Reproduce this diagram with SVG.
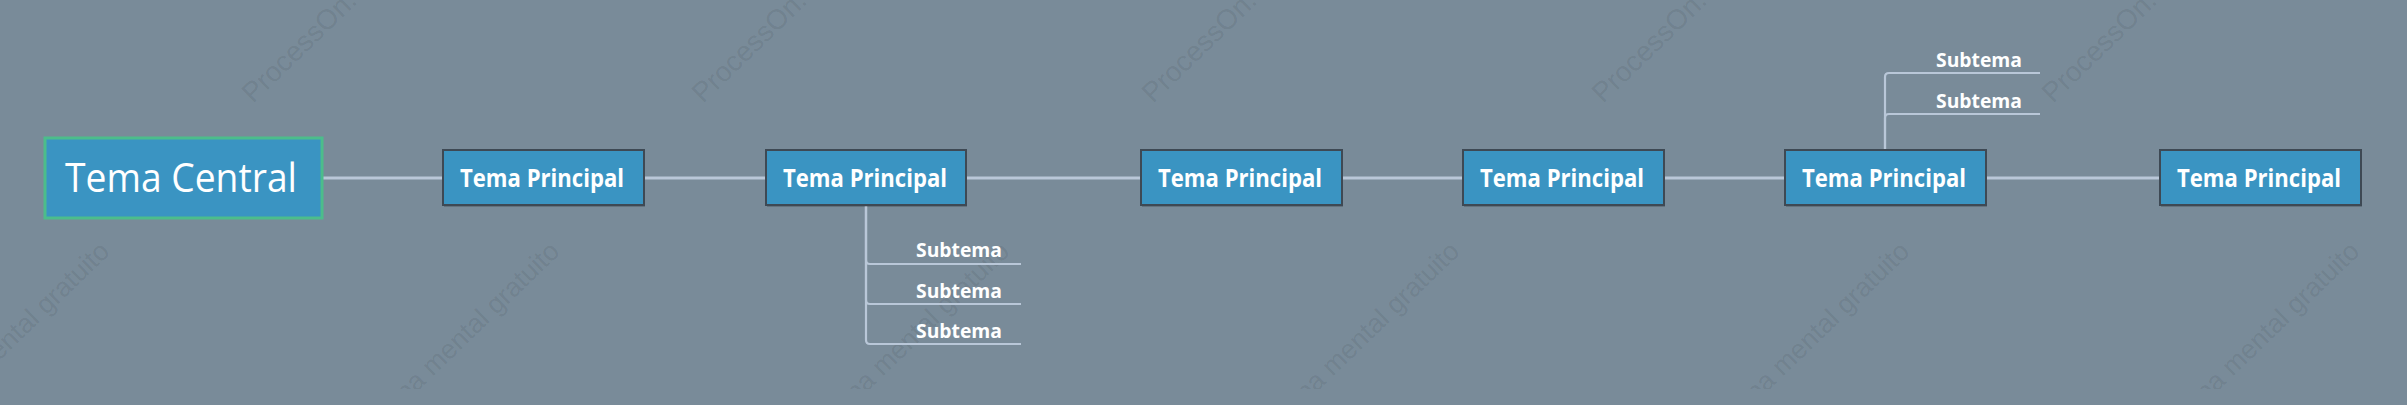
<svg xmlns="http://www.w3.org/2000/svg" width="2407" height="405" viewBox="0 0 2407 405">
<defs>
<style>
.wm{font-family:"Liberation Sans",Arial,sans-serif;font-size:28px;fill:#000;fill-opacity:0.085}
.wm2{font-family:"Liberation Sans",Arial,sans-serif;font-size:27px;fill:#000;fill-opacity:0.085;text-anchor:end}
.main rect.box{fill:#3a94c2;stroke:#3e4954;stroke-width:2}
.main rect.sh{fill:#000;fill-opacity:0.18}
.main text{font-family:"Open Sans","Noto Sans",sans-serif;font-weight:bold;font-size:25px;fill:#fff;text-anchor:middle}
.sub text{font-family:"Open Sans","Noto Sans",sans-serif;font-weight:bold;font-size:20px;fill:#fff}
.conn{fill:none;stroke:#b9c7d8;stroke-width:3}
.subc{fill:none;stroke:#b9c7d8;stroke-width:2.2}
</style>
<clipPath id="wmclip"><rect x="0" y="0" width="2407" height="389"/></clipPath>
</defs>
<rect x="0" y="0" width="2407" height="405" fill="#798b99"/>
<g id="watermarks" clip-path="url(#wmclip)">
<text class="wm" transform="translate(253,104) rotate(-44)">ProcessOn.com</text>
<text class="wm" transform="translate(703,104) rotate(-44)">ProcessOn.com</text>
<text class="wm" transform="translate(1153,104) rotate(-44)">ProcessOn.com</text>
<text class="wm" transform="translate(1603,104) rotate(-44)">ProcessOn.com</text>
<text class="wm" transform="translate(2053,104) rotate(-44)">ProcessOn.com</text>
<text class="wm2" transform="translate(111,253) rotate(-44)">Mapa mental gratuito</text>
<text class="wm2" transform="translate(561,253) rotate(-44)">Mapa mental gratuito</text>
<text class="wm2" transform="translate(1011,253) rotate(-44)">Mapa mental gratuito</text>
<text class="wm2" transform="translate(1461,253) rotate(-44)">Mapa mental gratuito</text>
<text class="wm2" transform="translate(1911,253) rotate(-44)">Mapa mental gratuito</text>
<text class="wm2" transform="translate(2361,253) rotate(-44)">Mapa mental gratuito</text>
</g>
<g id="connectors">
<path class="conn" d="M322 178 H443 M644 178 H766 M966 178 H1141 M1342 178 H1463 M1664 178 H1785 M1986 178 H2160"/>
<path class="subc" d="M866 205 V260 Q866 264 870 264 H1021"/>
<path class="subc" d="M866 205 V300 Q866 304 870 304 H1021"/>
<path class="subc" d="M866 205 V340 Q866 344 870 344 H1021"/>
<path class="subc" d="M1885 150 V77 Q1885 73 1889 73 H2040"/>
<path class="subc" d="M1885 150 V118 Q1885 114 1889 114 H2040"/>
</g>
<g id="central">
<rect x="45" y="138" width="277" height="80" fill="#3a94c2" stroke="#4cbd8b" stroke-width="3"/>
<text x="181" y="192" font-family="'Open Sans','Noto Sans',sans-serif" font-size="40" fill="#fff" text-anchor="middle" textLength="232" lengthAdjust="spacingAndGlyphs">Tema Central</text>
</g>
<g id="main1" class="main">
<rect class="sh" x="444" y="152" width="201" height="55"/>
<rect class="box" x="443" y="150" width="201" height="55"/>
<text x="542" y="187" textLength="164" lengthAdjust="spacingAndGlyphs">Tema Principal</text>
</g>
<g id="main2" class="main">
<rect class="sh" x="767" y="152" width="200" height="55"/>
<rect class="box" x="766" y="150" width="200" height="55"/>
<text x="865" y="187" textLength="164" lengthAdjust="spacingAndGlyphs">Tema Principal</text>
</g>
<g id="main3" class="main">
<rect class="sh" x="1142" y="152" width="201" height="55"/>
<rect class="box" x="1141" y="150" width="201" height="55"/>
<text x="1240" y="187" textLength="164" lengthAdjust="spacingAndGlyphs">Tema Principal</text>
</g>
<g id="main4" class="main">
<rect class="sh" x="1464" y="152" width="201" height="55"/>
<rect class="box" x="1463" y="150" width="201" height="55"/>
<text x="1562" y="187" textLength="164" lengthAdjust="spacingAndGlyphs">Tema Principal</text>
</g>
<g id="main5" class="main">
<rect class="sh" x="1786" y="152" width="201" height="55"/>
<rect class="box" x="1785" y="150" width="201" height="55"/>
<text x="1884" y="187" textLength="164" lengthAdjust="spacingAndGlyphs">Tema Principal</text>
</g>
<g id="main6" class="main">
<rect class="sh" x="2161" y="152" width="201" height="55"/>
<rect class="box" x="2160" y="150" width="201" height="55"/>
<text x="2259" y="187" textLength="164" lengthAdjust="spacingAndGlyphs">Tema Principal</text>
</g>
<g id="sub1" class="sub"><text x="916" y="257" textLength="86" lengthAdjust="spacingAndGlyphs">Subtema</text></g>
<g id="sub2" class="sub"><text x="916" y="297.5" textLength="86" lengthAdjust="spacingAndGlyphs">Subtema</text></g>
<g id="sub3" class="sub"><text x="916" y="338" textLength="86" lengthAdjust="spacingAndGlyphs">Subtema</text></g>
<g id="sub4" class="sub"><text x="1936" y="67" textLength="86" lengthAdjust="spacingAndGlyphs">Subtema</text></g>
<g id="sub5" class="sub"><text x="1936" y="107.5" textLength="86" lengthAdjust="spacingAndGlyphs">Subtema</text></g>
</svg>
